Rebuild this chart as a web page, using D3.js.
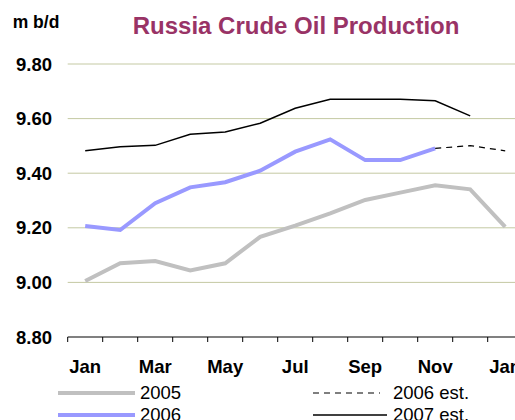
<!DOCTYPE html>
<html>
<head>
<meta charset="utf-8">
<script src="https://cdn.jsdelivr.net/npm/d3@7"></script>
<style>
	body { margin: 0; background: #fff; }
	svg { display: block; font-family: 'Liberation Sans', Arial, sans-serif; }
</style>
</head>
<body>
<div id="chart"></div>
<script>
const months = ['Jan', 'Feb', 'Mar', 'Apr', 'May', 'Jun', 'Jul', 'Aug', 'Sep', 'Oct', 'Nov', 'Dec', 'Jan2'];
const monthLabels = ['Jan', '', 'Mar', '', 'May', '', 'Jul', '', 'Sep', '', 'Nov', '', 'Jan'];
const yTicks = [8.8, 9.0, 9.2, 9.4, 9.6, 9.8];

const prod2005 = [9.005, 9.07, 9.078, 9.044, 9.07, 9.167, 9.208, 9.253, 9.302, 9.329, 9.356, 9.341, 9.203];
const prod2006 = [9.207, 9.192, 9.29, 9.348, 9.367, 9.409, 9.479, 9.524, 9.448, 9.448, 9.491];
const est2006 = [null, null, null, null, null, null, null, null, null, null, 9.491, 9.501, 9.482];
const est2007 = [9.482, 9.497, 9.502, 9.543, 9.551, 9.583, 9.638, 9.671, 9.671, 9.671, 9.665, 9.61];

const W = 515, H = 420;
const m = { top: 64, left: 67.7, bottom: 337 };
const band = 35;

const svg = d3.select('#chart').append('svg')
	.attr('width', W)
	.attr('height', H);

const x = d3.scaleBand()
	.domain(months)
	.range([m.left, m.left + band * months.length]);

const y = d3.scaleLinear()
	.domain([8.8, 9.8])
	.range([m.bottom, m.top]);

const cx = (i) => x(months[i]) + x.bandwidth() / 2;

// gridlines
svg.append('g')
	.selectAll('line')
	.data(yTicks.filter((t) => t > 8.8))
	.enter()
	.append('line')
	.attr('x1', m.left)
	.attr('x2', W)
	.attr('y1', (d) => y(d))
	.attr('y2', (d) => y(d))
	.attr('stroke', '#c4c9a3')
	.attr('stroke-width', 1);

// y labels
svg.append('g')
	.selectAll('text')
	.data(yTicks)
	.enter()
	.append('text')
	.attr('x', 52)
	.attr('y', (d) => y(d))
	.attr('dy', '0.36em')
	.attr('text-anchor', 'end')
	.attr('font-size', 18.5)
	.attr('font-weight', 'bold')
	.text((d) => d.toFixed(2));

// x axis
const xAxis = d3.axisBottom(x)
	.tickSize(0)
	.tickFormat((d, i) => monthLabels[i]);

const gx = svg.append('g')
	.attr('transform', 'translate(0,' + m.bottom + ')')
	.call(xAxis);
gx.select('.domain').remove();
gx.selectAll('text')
	.attr('y', 36)
	.attr('dy', 0)
	.attr('font-size', 18.5)
	.attr('font-weight', 'bold')
	.attr('font-family', "'Liberation Sans', Arial, sans-serif")
	.attr('fill', '#000');

svg.append('line')
	.attr('x1', m.left)
	.attr('x2', W)
	.attr('y1', m.bottom)
	.attr('y2', m.bottom)
	.attr('stroke', '#808080')
	.attr('stroke-width', 2);

svg.append('g')
	.selectAll('line')
	.data(d3.range(months.length + 1))
	.enter()
	.append('line')
	.attr('x1', (d) => m.left + d * band)
	.attr('x2', (d) => m.left + d * band)
	.attr('y1', m.bottom)
	.attr('y2', m.bottom + 5)
	.attr('stroke', '#000')
	.attr('stroke-width', 1);

// series
const line = d3.line()
	.defined((d) => d != null)
	.x((d, i) => cx(i))
	.y((d) => y(d));

const series = [
	{ data: prod2005, color: '#c0c0c0', width: 4, dash: null },
	{ data: prod2006, color: '#9999ff', width: 4, dash: null },
	{ data: est2006, color: '#000', width: 1.2, dash: '6,5' },
	{ data: est2007, color: '#000', width: 1.5, dash: null }
];

series.forEach((s) => {
	svg.append('path')
		.datum(s.data)
		.attr('d', line)
		.attr('fill', 'none')
		.attr('stroke', s.color)
		.attr('stroke-width', s.width)
		.attr('stroke-dasharray', s.dash);
});

// titles
svg.append('text')
	.attr('x', 12.7)
	.attr('y', 28)
	.attr('font-size', 17.5)
	.attr('font-weight', 'bold')
	.text('m b/d');

svg.append('text')
	.attr('x', 132.7)
	.attr('y', 34)
	.attr('font-size', 24)
	.attr('font-weight', 'bold')
	.attr('fill', '#993366')
	.text('Russia Crude Oil Production');

// legend
const legend = [
	{ label: '2005', color: '#c0c0c0', width: 4, dash: null, x: 58, x2: 135, ty: 140, y: 393 },
	{ label: '2006', color: '#9999ff', width: 4, dash: null, x: 58, x2: 135, ty: 140, y: 415 },
	{ label: '2006 est.', color: '#000', width: 1.2, dash: '6,5', x: 313, x2: 380, ty: 393, y: 393 },
	{ label: '2007 est.', color: '#000', width: 1.5, dash: null, x: 313, x2: 387, ty: 393, y: 415 }
];

const lg = svg.append('g')
	.selectAll('g')
	.data(legend)
	.enter()
	.append('g');

lg.append('line')
	.attr('x1', (d) => d.x)
	.attr('x2', (d) => d.x2)
	.attr('y1', (d) => d.y)
	.attr('y2', (d) => d.y)
	.attr('stroke', (d) => d.color)
	.attr('stroke-width', (d) => d.width)
	.attr('stroke-dasharray', (d) => d.dash);

lg.append('text')
	.attr('x', (d) => d.ty)
	.attr('y', (d) => d.y + 6)
	.attr('font-size', 18.5)
	.text((d) => d.label);
</script>
</body>
</html>
